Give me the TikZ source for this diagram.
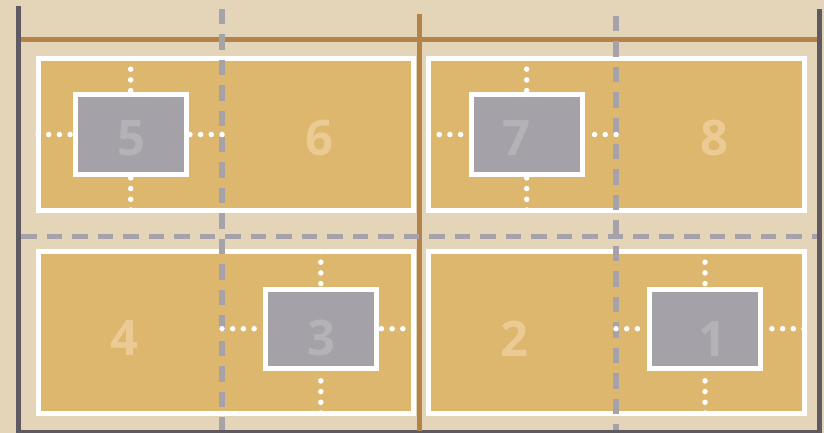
\documentclass[tikz,border=0pt]{standalone}
\usepackage{fontspec}
\setmainfont{Open Sans}
\usetikzlibrary{calc}

\definecolor{sand}{HTML}{E5D5B8}
\definecolor{gold}{HTML}{DEB76E}
\definecolor{slate}{HTML}{A4A1A8}
\definecolor{rail}{HTML}{A5A2AA}
\definecolor{wall}{HTML}{5F5A61}
\definecolor{beam}{HTML}{B4834A}
\definecolor{boxnum}{HTML}{B5B2B7}
\definecolor{panelnum}{HTML}{EBCB93}

\begin{document}
\begin{tikzpicture}[
    x=1pt, y=-1pt,
    panel/.style={draw=white, fill=gold, line width=5pt, outer sep=0pt, inner sep=0pt, minimum width=375.5pt},
    box/.style={draw=white, fill=slate, line width=5pt, inner sep=0pt, minimum width=111pt, minimum height=79.4pt},
    num/.style={inner sep=0pt, font=\bfseries\fontsize{49}{49}\selectfont},
    dots/.style={white, line width=5.5pt, line cap=round, dash pattern=on 0pt off 10.7pt},
    guide/.style={rail, line width=5.5pt, dash pattern=on 15.5pt off 10pt},
    edge/.style={wall, line width=5pt},
    rib/.style={beam, line width=5pt}
]
\useasboundingbox (0,0) rectangle (824,433);
\fill[sand] (0,0) rectangle (824,433);

% frame
\coordinate (lt) at (18.7,6);
\coordinate (lb) at (18.7,433);
\coordinate (rt) at (819.3,9);
\coordinate (rb) at (819.3,433);
\coordinate (bl) at (21,432);
\coordinate (br) at (822,432);
\draw[edge] (lt) -- (lb);
\draw[edge] (rt) -- (rb);
\draw[edge] (bl) -- (br);

% brown ribs
\coordinate (hl) at (21,39.2);
\coordinate (hr) at (817,39.2);
\coordinate (vt) at (419.2,14);
\coordinate (vb) at (419.2,431);
\draw[rib] (hl) -- (hr);
\draw[rib] (vt) -- (vb);

% panels
\node[panel, minimum height=151.5pt] (p56) at (225.75,134.25) {};
\node[panel, minimum height=151.5pt] (p78) at (616.25,134.25) {};
\node[panel, minimum height=161.5pt] (p34) at (225.75,332.25) {};
\node[panel, minimum height=161.5pt] (p12) at (616.25,332.25) {};

% dashed guides
\coordinate (ga) at (222,9);
\coordinate (ga end) at (222,430);
\coordinate (gb) at (616,16);
\coordinate (gb end) at (616,430);
\coordinate (gh) at (21,236.5);
\coordinate (gh end) at (817,236.5);
\draw[guide] (ga) -- (ga end);
\draw[guide] (gb) -- (gb end);
\draw[guide] (gh) -- (gh end);

% boxes
\node[box] (b5) at (130.7,134.5) {};
\node[box] (b7) at (526.7,134.5) {};
\node[box] (b3) at (320.8,328.7) {};
\node[box] (b1) at (705,328.7) {};

% dotted ties
\draw[dots] (b5.west -| p56.west) -- (b5.west);
\draw[dots] (b5.east -| ga) -- (b5.east);
\draw[dots] (b5.north |- p56.north) -- (b5.north);
\draw[dots] (b5.south |- p56.south) -- (b5.south);

\draw[dots] (b7.west -| p78.west) -- (b7.west);
\draw[dots] (b7.east -| gb) -- (b7.east);
\draw[dots] (b7.north |- p78.north) -- (b7.north);
\draw[dots] (b7.south |- p78.south) -- (b7.south);

\draw[dots] (b3.west -| ga) -- (b3.west);
\draw[dots] (b3.east -| p34.east) -- (b3.east);
\draw[dots] (b3.north |- p34.north) -- (b3.north);
\draw[dots] (b3.south |- p34.south) -- (b3.south);

\draw[dots] (b1.west -| gb) -- (b1.west);
\draw[dots] (b1.east -| p12.east) -- (b1.east);
\draw[dots] (b1.north |- p12.north) -- (b1.north);
\draw[dots] (b1.south |- p12.south) -- (b1.south);

% numbers
\node[num, text=boxnum] (n5) at (131.5,138) {5};
\node[num, text=panelnum] (n6) at (319.7,138) {6};
\node[num, text=boxnum] (n7) at (516.7,138) {7};
\node[num, text=panelnum] (n8) at (714,138) {8};
\node[num, text=panelnum] (n4) at (124.5,338.3) {4};
\node[num, text=boxnum] (n3) at (321,338.3) {3};
\node[num, text=panelnum] (n2) at (514,338.3) {2};
\node[num, text=boxnum] (n1) at (712,338.8) {1};
\end{tikzpicture}
\end{document}
